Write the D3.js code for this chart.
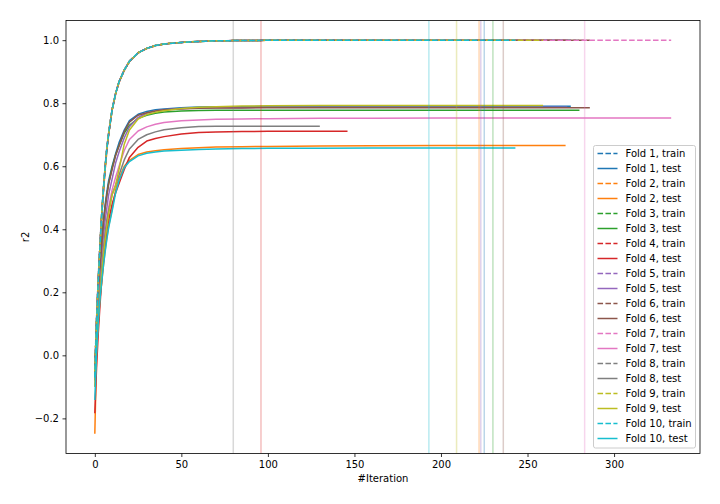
<!DOCTYPE html>
<html>
<head>
<meta charset="utf-8">
<script src="https://cdn.jsdelivr.net/npm/d3@7"></script>
<style>
  body { margin: 0; background: #fff; }
  svg { display: block; font-family: "DejaVu Sans", sans-serif; }
</style>
</head>
<body>
<svg id="chart" width="720" height="504"></svg>
<script>
// ---------------- DATA ----------------
const foldNames = ["Fold 1","Fold 2","Fold 3","Fold 4","Fold 5","Fold 6","Fold 7","Fold 8","Fold 9","Fold 10"];
const foldColors = ["#1f77b4","#ff7f0e","#2ca02c","#d62728","#9467bd","#8c564b","#e377c2","#7f7f7f","#bcbd22","#17becf"];

// iterations at which values were read
const iterGrid = [0,1,2,3,4,5,6,7,8,10,12,14,17,20,25,30,35,40,50,60,70,85,100,130,160,200,250,300];

// last iteration of each fold's curves, and best iteration (vertical lines)
const lastIter = [275, 272, 280, 146, 273, 286, 333, 130, 259, 243];
const bestIter = [225, 222, 230, 96, 223, 236, 283, 80, 209, 193];

// train r2 per fold at iterGrid (then value at lastIter)
const train1  = [-0.05,0.11,0.24,0.35,0.45,0.53,0.60,0.66,0.705,0.78,0.83,0.868,0.905,0.933,0.96,0.974,0.983,0.988,0.993,0.996,0.998,0.999,0.9995,1.0,1.0,1.0,1.0];
const train2  = [-0.06,0.10,0.23,0.34,0.44,0.52,0.59,0.65,0.70,0.777,0.828,0.866,0.904,0.932,0.959,0.973,0.982,0.988,0.993,0.996,0.998,0.999,0.9995,1.0,1.0,1.0,1.0];
const train3  = [-0.05,0.11,0.24,0.35,0.45,0.53,0.60,0.66,0.705,0.78,0.83,0.868,0.905,0.933,0.96,0.974,0.983,0.988,0.993,0.996,0.998,0.999,0.9995,1.0,1.0,1.0,1.0];
const train4  = [-0.07,0.10,0.23,0.34,0.44,0.52,0.595,0.655,0.70,0.778,0.829,0.867,0.904,0.932,0.96,0.974,0.983,0.988,0.993,0.996,0.998,0.999,0.9995,1.0,1.0];
const train5  = [-0.04,0.12,0.25,0.36,0.45,0.535,0.605,0.662,0.707,0.782,0.832,0.869,0.906,0.934,0.96,0.974,0.983,0.988,0.993,0.996,0.998,0.999,0.9995,1.0,1.0,1.0,1.0];
const train6  = [-0.06,0.11,0.24,0.35,0.45,0.53,0.60,0.66,0.705,0.78,0.83,0.868,0.905,0.933,0.96,0.974,0.983,0.988,0.993,0.996,0.998,0.999,0.9995,1.0,1.0,1.0,1.0];
const train7  = [-0.05,0.11,0.24,0.35,0.45,0.53,0.60,0.66,0.705,0.78,0.83,0.868,0.905,0.933,0.96,0.974,0.983,0.988,0.993,0.996,0.998,0.999,0.9995,1.0,1.0,1.0,1.0,1.0,1.0];
const train8  = [-0.06,0.11,0.24,0.35,0.45,0.53,0.60,0.66,0.705,0.78,0.83,0.868,0.905,0.933,0.96,0.974,0.983,0.988,0.993,0.996,0.998,0.999,0.9995,1.0,1.0];
const train9  = [-0.05,0.11,0.24,0.35,0.45,0.53,0.60,0.66,0.705,0.78,0.83,0.868,0.905,0.933,0.96,0.974,0.983,0.988,0.993,0.996,0.998,0.999,0.9995,1.0,1.0,1.0,1.0];
const train10 = [-0.07,0.10,0.235,0.345,0.445,0.527,0.598,0.658,0.703,0.779,0.83,0.868,0.905,0.933,0.96,0.974,0.983,0.988,0.993,0.996,0.998,0.999,0.9995,1.0,1.0,1.0,1.0];

// test r2 per fold at iterGrid (then value at lastIter)
const test1  = [-0.06,0.08,0.19,0.28,0.36,0.43,0.48,0.52,0.555,0.60,0.64,0.675,0.715,0.745,0.765,0.774,0.779,0.782,0.786,0.788,0.789,0.789,0.790,0.790,0.790,0.790,0.790];
const test2  = [-0.249,0.00,0.10,0.18,0.23,0.285,0.335,0.375,0.41,0.465,0.525,0.562,0.60,0.619,0.637,0.645,0.649,0.652,0.656,0.659,0.661,0.662,0.663,0.664,0.665,0.666,0.666];
const test3  = [-0.05,0.08,0.19,0.28,0.36,0.42,0.47,0.51,0.545,0.595,0.635,0.665,0.705,0.73,0.752,0.762,0.768,0.772,0.775,0.777,0.778,0.778,0.778,0.778,0.778,0.778,0.778];
const test4  = [-0.184,-0.04,0.07,0.16,0.24,0.30,0.35,0.40,0.43,0.48,0.515,0.545,0.59,0.628,0.66,0.68,0.688,0.694,0.702,0.707,0.709,0.710,0.711,0.711,0.711];
const test5  = [-0.07,0.05,0.15,0.24,0.32,0.38,0.43,0.47,0.51,0.56,0.61,0.645,0.69,0.725,0.755,0.768,0.775,0.779,0.783,0.785,0.786,0.786,0.787,0.787,0.787,0.787,0.787];
const test6  = [-0.06,0.07,0.18,0.27,0.35,0.42,0.47,0.51,0.545,0.59,0.635,0.665,0.71,0.74,0.762,0.770,0.775,0.779,0.782,0.784,0.785,0.785,0.786,0.786,0.786,0.786,0.786];
const test7  = [-0.10,0.02,0.12,0.21,0.28,0.34,0.39,0.43,0.47,0.525,0.565,0.60,0.65,0.685,0.712,0.725,0.733,0.739,0.744,0.747,0.749,0.750,0.751,0.752,0.752,0.753,0.753,0.753,0.753];
const test8  = [-0.08,0.04,0.13,0.21,0.28,0.34,0.39,0.43,0.46,0.51,0.54,0.572,0.62,0.655,0.685,0.70,0.709,0.716,0.722,0.726,0.727,0.727,0.727,0.727,0.727];
const test9  = [-0.10,0.02,0.11,0.19,0.26,0.32,0.37,0.41,0.45,0.51,0.54,0.59,0.67,0.715,0.75,0.764,0.771,0.776,0.783,0.787,0.789,0.791,0.792,0.793,0.793,0.793,0.793];
const test10 = [-0.142,0.01,0.11,0.18,0.235,0.285,0.33,0.37,0.405,0.458,0.515,0.555,0.595,0.615,0.633,0.641,0.645,0.648,0.651,0.653,0.655,0.656,0.657,0.657,0.658,0.658,0.658];

const trainSeries = [train1,train2,train3,train4,train5,train6,train7,train8,train9,train10];
const testSeries  = [test1,test2,test3,test4,test5,test6,test7,test8,test9,test10];

const xTicks = [0,50,100,150,200,250,300];
const yTicks = [-0.2,0.0,0.2,0.4,0.6,0.8,1.0];
const xLabel = "#Iteration";
const yLabel = "r2";

// ---------------- BUILD POINTS ----------------
function toPoints(values, last) {
  const pts = [];
  iterGrid.forEach((it, i) => { if (it < last && i < values.length - 1) pts.push([it, values[i]]); });
  pts.push([last, values[values.length - 1]]);
  return pts;
}
const folds = foldNames.map((name, i) => ({
  name, color: foldColors[i], best: bestIter[i],
  train: toPoints(trainSeries[i], lastIter[i]),
  test: toPoints(testSeries[i], lastIter[i])
}));

// ---------------- LAYOUT ----------------
const X0 = 66, X1 = 700, Y0 = 20.5, Y1 = 453.5;
const allX = folds.flatMap(f => f.train.concat(f.test).map(p => p[0]));
const allY = folds.flatMap(f => f.train.concat(f.test).map(p => p[1]));
const xmin = d3.min(allX), xmax = d3.max(allX), ymin = d3.min(allY), ymax = d3.max(allY);
const xm = (xmax - xmin) * 0.05, ym = (ymax - ymin) * 0.05;
const x = d3.scaleLinear().domain([xmin - xm, xmax + xm]).range([X0, X1]);
const y = d3.scaleLinear().domain([ymin - ym, ymax + ym]).range([Y1, Y0]);

const svg = d3.select("#chart");
const clipId = "plotclip";
svg.append("defs").append("clipPath").attr("id", clipId)
  .append("rect").attr("x", X0).attr("y", Y0).attr("width", X1 - X0).attr("height", Y1 - Y0);

const plot = svg.append("g").attr("clip-path", `url(#${clipId})`);
const line = d3.line().x(d => x(d[0])).y(d => y(d[1]));

folds.forEach(f => {
  plot.append("path").attr("d", line(f.train)).attr("fill", "none")
    .attr("stroke", f.color).attr("stroke-width", 1.5)
    .attr("stroke-dasharray", "5.55,2.4").attr("stroke-linejoin", "round");
  plot.append("path").attr("d", line(f.test)).attr("fill", "none")
    .attr("stroke", f.color).attr("stroke-width", 1.5).attr("stroke-linejoin", "round");
});
folds.forEach(f => {
  plot.append("line").attr("x1", x(f.best)).attr("x2", x(f.best))
    .attr("y1", Y0).attr("y2", Y1).attr("stroke", f.color)
    .attr("stroke-width", 1.5).attr("stroke-opacity", 0.3);
});

// ---------------- AXES ----------------
const fmtY = d3.format(".1f");
const xAxis = d3.axisBottom(x).tickValues(xTicks).tickFormat(d3.format("d")).tickSize(3.5).tickPadding(3.5);
const yAxis = d3.axisLeft(y).tickValues(yTicks).tickFormat(fmtY).tickSize(3.5).tickPadding(3.5);
const gx = svg.append("g").attr("transform", `translate(0,${Y1})`).call(xAxis);
const gy = svg.append("g").attr("transform", `translate(${X0},0)`).call(yAxis);
[gx, gy].forEach(g => {
  g.select(".domain").remove();
  g.selectAll(".tick line").attr("stroke", "#000").attr("stroke-width", 0.8);
  g.selectAll(".tick text").attr("fill", "#000").attr("font-size", 10)
    .attr("font-family", "DejaVu Sans, sans-serif");
});

// spines
svg.append("rect").attr("x", X0).attr("y", Y0).attr("width", X1 - X0).attr("height", Y1 - Y0)
  .attr("fill", "none").attr("stroke", "#000").attr("stroke-width", 0.8);

svg.append("text").attr("x", (X0 + X1) / 2).attr("y", 482).attr("text-anchor", "middle")
  .attr("font-size", 10).attr("fill", "#000").text(xLabel);
svg.append("text").attr("transform", `translate(29,${(Y0 + Y1) / 2}) rotate(-90)`)
  .attr("text-anchor", "middle").attr("font-size", 10).attr("fill", "#000").text(yLabel);

// ---------------- LEGEND ----------------
const entries = folds.flatMap(f => [
  { label: f.name + ", train", color: f.color, dashed: true },
  { label: f.name + ", test", color: f.color, dashed: false }
]);
const LX = 593.5, LY = 145.5, LW = 102, rowH = 15.0;
const LH = entries.length * rowH + 2.5;
const lg = svg.append("g");
lg.append("rect").attr("x", LX).attr("y", LY).attr("width", LW).attr("height", LH)
  .attr("rx", 2).attr("fill", "#fff").attr("fill-opacity", 0.8)
  .attr("stroke", "#cccccc").attr("stroke-width", 1);
entries.forEach((e, i) => {
  const cy = LY + 8 + i * rowH;
  const ln = lg.append("line").attr("x1", LX + 4).attr("x2", LX + 24)
    .attr("y1", cy).attr("y2", cy).attr("stroke", e.color).attr("stroke-width", 1.5);
  if (e.dashed) ln.attr("stroke-dasharray", "5.55,2.4");
  lg.append("text").attr("x", LX + 32).attr("y", cy).attr("dy", "0.36em")
    .attr("font-size", 10).attr("fill", "#000").text(e.label);
});
</script>
</body>
</html>
